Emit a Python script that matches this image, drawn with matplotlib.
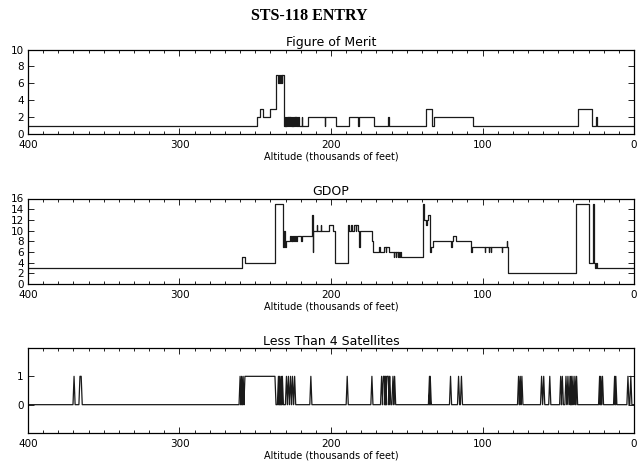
import matplotlib
matplotlib.use("Agg")
import matplotlib.pyplot as plt
from matplotlib.ticker import MultipleLocator, FixedLocator

# ---------------- data ----------------
# Figure of Merit: altitude (kft) where each level starts (descending), and level
fom_alt = [400, 249.0, 247.0, 244.7, 240.3, 236.5, 234.9, 234.5, 233.4, 233.0,
           232.5, 232.1, 231.3,
           230.5, 230.1, 229.8, 229.4, 229.0, 228.6, 228.3, 227.9, 227.6, 227.2,
           226.8, 226.4, 226.0, 225.6, 225.2, 224.8, 224.4, 224.0, 223.6, 223.2,
           222.8, 222.4, 221.6, 221.2, 219.4, 219.0,
           215.2, 204.2, 203.7, 196.7, 188.3, 182.2, 181.7, 171.4,
           162.4, 161.9, 137.5, 133.1, 131.8, 106.0, 36.8, 28.0, 24.8, 24.2, 0]
fom_val = [1, 2, 3, 2, 3, 7, 6, 7, 6, 7,
           6, 7, 1,
           2, 1, 2, 1, 2, 1, 2, 1, 2, 1,
           2, 1, 2, 1, 2, 1, 2, 1, 2, 1,
           2, 1, 2, 1, 2, 1,
           2, 1, 2, 1, 2, 1, 2, 1,
           2, 1, 3, 1, 2, 1, 3, 1, 2, 1, 1]

# GDOP
gdop_alt = [400, 258.5, 256.9, 237.0, 231.5, 230.9, 230.5, 229.8,
            226.8, 226.4, 225.9, 225.5, 224.9, 224.5, 223.8, 223.4, 222.7,
            219.7, 219.2, 212.3, 212.0, 211.7, 209.4, 209.0, 206.9, 206.5,
            201.5, 198.5, 197.6, 188.6, 187.8, 186.5, 185.9, 184.7, 183.8,
            183.2, 182.5, 181.5, 181.1, 173.0, 172.3,
            168.2, 167.6, 165.2, 163.8, 163.4, 161.4,
            158.6, 158.2, 157.2, 156.8, 156.0, 155.6, 155.0, 154.6, 153.8,
            139.2, 138.4, 137.0, 136.6, 136.2, 134.6, 134.0, 132.5,
            120.8, 120.4, 119.6, 117.8, 107.7, 107.2,
            98.6, 98.2, 95.8, 95.4, 94.6, 94.2, 87.3, 86.9, 83.9, 83.5, 82.9,
            38.2, 30.0, 26.9, 26.3, 25.5, 25.2, 24.6, 0]
gdop_val = [3, 5, 4, 15, 7, 10, 7, 8,
            9, 8, 9, 8, 9, 8, 9, 8, 9,
            8, 9, 13, 6, 10, 11, 10, 11, 10,
            11, 10, 4, 11, 10, 11, 10, 11, 10,
            11, 10, 7, 10, 8, 6,
            7, 6, 7, 6, 7, 6,
            5, 6, 5, 6, 5, 6, 5, 6, 5,
            15, 12, 11, 12, 13, 6, 7, 8,
            7, 8, 9, 8, 6, 7,
            6, 7, 6, 7, 6, 7, 6, 7, 8, 7, 2,
            15, 4, 15, 4, 3, 4, 3, 3]

# Less than 4 satellites: intervals (start altitude, end altitude) where flag = 1
sat_start = [369.6, 365.7, 260.0, 259.0, 258.0, 256.8, 234.7, 233.9, 232.9, 232.1,
             229.4, 228.1, 226.7, 225.4, 224.0, 213.3, 189.3, 173.0,
             166.6, 165.4, 164.0, 163.1, 161.3, 159.1, 158.0, 135.0, 134.5,
             121.1, 115.8, 113.9, 76.2, 75.1, 74.0, 61.0, 59.6, 55.6,
             48.4, 47.3, 44.9, 43.6, 42.2, 41.4, 40.3, 39.0, 37.9,
             22.7, 21.9, 20.8, 12.8, 12.0, 4.0, 2.1]
sat_end = [369.6, 364.9, 260.0, 259.0, 258.0, 237.0, 234.7, 233.9, 232.9, 232.1,
           229.4, 228.1, 226.7, 225.4, 224.0, 213.3, 189.3, 173.0,
           166.6, 164.8, 163.9, 162.2, 161.2, 159.1, 158.0, 135.0, 134.5,
           121.1, 115.8, 113.9, 76.2, 75.1, 74.0, 61.0, 59.6, 55.6,
           48.4, 47.3, 44.9, 43.6, 42.2, 41.4, 40.3, 39.0, 37.9,
           22.7, 21.9, 20.8, 12.8, 12.0, 4.0, 2.1]

x_ticks = [400, 300, 200, 100, 0]

# ---------------- build flag line from intervals ----------------
ramp = 0.7
sx = [400.0]
sy = [0.0]
for s, e in zip(sat_start, sat_end):
    sx += [s + ramp, s, e, e - ramp]
    sy += [0, 1, 1, 0]
sx.append(0.0)
sy.append(0.0)

# ---------------- figure ----------------
plt.rcParams['font.family'] = ['DejaVu Sans']
fig = plt.figure(figsize=(6.39, 4.62), dpi=100)
W, H = 639.0, 462.0
left, right = 28, 634
panels = [(49.5, 134), (198.5, 284), (348, 433)]
axes = []
for top, bot in panels:
    ax = fig.add_axes([left / W, 1 - bot / H, (right - left) / W, (bot - top) / H])
    axes.append(ax)

lc = '#1a1a1a'
lw = 0.9
tfs = 9

ax1, ax2, ax3 = axes
ax1.step(fom_alt, fom_val, where='post', color=lc, lw=lw)
ax1.set_ylim(0, 10)
ax1.yaxis.set_major_locator(MultipleLocator(2))
ax1.set_title('Figure of Merit', fontsize=tfs, pad=2.5)

ax2.step(gdop_alt, gdop_val, where='post', color=lc, lw=lw)
ax2.set_ylim(0, 16)
ax2.yaxis.set_major_locator(MultipleLocator(2))
ax2.set_title('GDOP', fontsize=tfs, pad=2.5)

ax3.plot(sx, sy, color=lc, lw=lw)
ax3.set_ylim(-1, 2)
ax3.yaxis.set_major_locator(FixedLocator([0, 1]))
ax3.set_title('Less Than 4 Satellites', fontsize=tfs, pad=2.5)

for ax in axes:
    ax.set_xlim(400, 0)
    ax.xaxis.set_major_locator(FixedLocator(x_ticks))
    ax.xaxis.set_minor_locator(MultipleLocator(10))
    ax.tick_params(which='both', direction='in', top=True, right=True,
                   labelsize=7.5, width=0.6, colors='black')
    ax.tick_params(which='major', length=4)
    ax.tick_params(which='minor', length=2.5)
    ax.tick_params(axis='x', which='major', pad=4.5)
    ax.tick_params(axis='y', which='minor', left=False, right=False)
    ax.tick_params(axis='y', pad=3)
    for sp in ax.spines.values():
        sp.set_linewidth(0.9)
    ax.set_xlabel('Altitude (thousands of feet)', fontsize=7, labelpad=1)

fig.text(309 / W, 1 - 16 / H, 'STS-118 ENTRY', ha='center', va='center',
         fontsize=11.5, fontweight='bold', family='Liberation Serif')

fig.savefig('out.png', dpi=100)
